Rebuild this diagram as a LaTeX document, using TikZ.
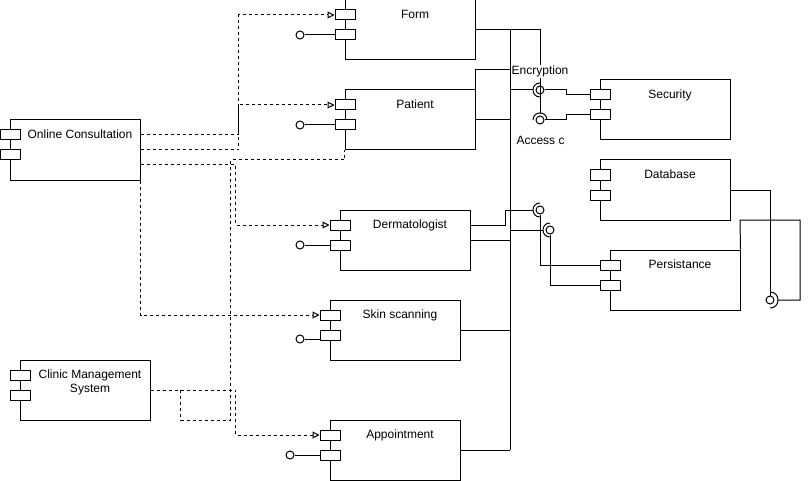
\documentclass[tikz,border=0pt]{standalone}
\usepackage{fontspec}
\setmainfont{Liberation Sans}
\usetikzlibrary{arrows.meta}

\begin{document}
\begin{tikzpicture}[x=1pt, y=-1pt, line width=1pt,
    comp/.style={draw, minimum width=130pt, minimum height=60pt, inner sep=0pt},
    port/.style={draw, fill=white, minimum width=20pt, minimum height=10pt, inner sep=0pt},
    ball/.style={draw, circle, minimum size=8pt, inner sep=0pt},
    lbl/.style={anchor=north, inner sep=0pt, font=\fontsize{12}{14}\selectfont, align=center},
    dep/.style={dash pattern=on 3pt off 3pt, -{Triangle[open, length=7pt, width=7pt]}}]
    \useasboundingbox (0,0) rectangle (810,481);
    \foreach \n/\cx/\cy/\t in {form/410/30/Form, pat/410/120/Patient, oc/75/150/Online Consultation,
        derm/405/240/Dermatologist, skin/395/330/Skin scanning, app/395/450/Appointment,
        cms/85/390/{Clinic Management\\System}, sec/665/110/Security, db/665/190/Database,
        pers/675/280/Persistance}
    {
        \node[comp] (\n) at (\cx,\cy) {};
        \node[port] (\n-p1) at (\cx-65,\cy-15) {};
        \node[port] (\n-p2) at (\cx-65,\cy+5) {};
        \node[lbl] at (\cx+5,\cy-20.5) {\t};
    }
    \node[ball] (form-b) at (300,35) {};
    \node[ball] (pat-b) at (300,125) {};
    \node[ball] (derm-b) at (300,245) {};
    \node[ball] (skin-b) at (300,339) {};
    \node[ball] (app-b) at (290,455) {};
    \draw (form-b) -- (form-p2);
    \draw (pat-b) -- (pat-p2);
    \draw (derm-b) -- (derm-p2);
    \draw (skin-b) -- (skin-b -| skin-p2.west);
    \draw (app-b) -- (app-p2);

    \coordinate (bus) at (510,30);
    \coordinate (pers-up) at (740,220);
    \node[ball] (enc) at (540,90) {};
    \node[ball] (acc) at (540,120) {};
    \node[ball] (dp1) at (540,210) {};
    \node[ball] (dp2) at (550,230) {};
    \node[ball] (dbb) at (770,300) {};

    \draw (bus) -- (bus |- app.east);
    \draw (form.east) -| ([yshift=7pt]acc.center);
    \draw (pat.east) -- (bus |- pat.east);
    \draw (pat.north east) |- ([yshift=-40pt]bus);
    \draw (derm.east) -- (bus |- derm.east);
    \draw ([yshift=15pt]derm.east) -- ++(35,0) |- ([xshift=-7pt]dp1.center);
    \draw (skin.east) -- (bus |- skin.east);
    \draw (app.east) -- (bus |- app.east);

    \draw ([yshift=7pt]enc.center) .. controls +(-9.33,0) and +(-9.33,0) .. ([yshift=-7pt]enc.center);
    \draw (bus |- enc) -- ([xshift=-7pt]enc.center);
    \draw (enc) -- ++(26,0) |- (sec-p1);
    \draw ([xshift=-7pt]acc.center) .. controls +(0,-9.33) and +(0,-9.33) .. ([xshift=7pt]acc.center);
    \draw (acc) -- ++(26,0) |- (sec-p2);

    \draw ([yshift=7pt]dp1.center) .. controls +(-9.33,0) and +(-9.33,0) .. ([yshift=-7pt]dp1.center);
    \draw (dp1) |- (pers-p1);
    \draw ([yshift=7pt]dp2.center) .. controls +(-9.33,0) and +(-9.33,0) .. ([yshift=-7pt]dp2.center);
    \draw (bus |- dp2) -- ([xshift=-7pt]dp2.center);
    \draw (dp2) |- (pers-p2);

    \draw (db.east) -| (dbb);
    \draw ([yshift=8pt]dbb.center) .. controls +(10.67,0) and +(10.67,0) .. ([yshift=-8pt]dbb.center);
    \draw ([xshift=8pt]dbb.center) -- ++(22,0) |- (pers-up) -- (pers.north east);

    \node[lbl, fill=white, inner sep=1pt] at (540,64.5) {Encryption};
    \node[lbl, fill=white, inner sep=1pt] at (540.5,134.5) {Access c};

    \draw[dep] ([yshift=15pt]oc.east) -- ++(98,0) |- (form-p1);
    \draw[dep] (oc.east) -- ++(98,0) |- (pat-p1);
    \draw[dep] ([yshift=-15pt]oc.east) -- ++(95,0) |- (derm-p1);
    \draw[dep] (oc.south east) |- (skin-p1);
    \draw[dep] (cms.east) -- ++(85,0) |- (app-p1);
    \draw[dash pattern=on 3pt off 3pt] (cms.east) -- ++(30,0) -- ++(0,30) -- ++(50,0) -- ++(0,-260) -| (pat.south west);
\end{tikzpicture}
\end{document}
